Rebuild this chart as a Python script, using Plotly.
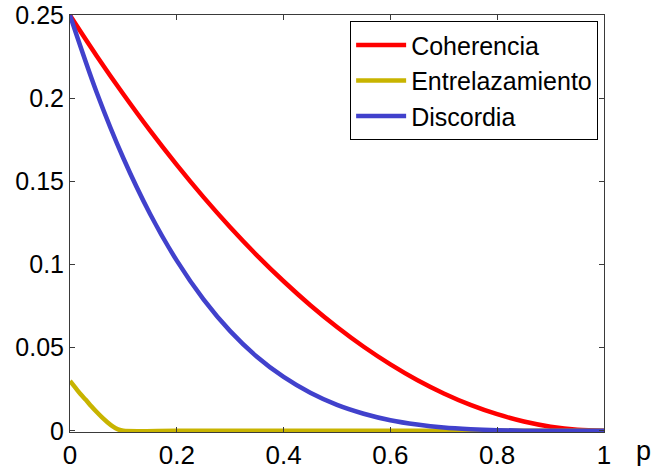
import plotly.graph_objects as go

# Parameter p
p = [0.0, 0.05, 0.1, 0.15, 0.2, 0.25, 0.3, 0.35, 0.4, 0.45, 0.5,
     0.55, 0.6, 0.65, 0.7, 0.75, 0.8, 0.85, 0.9, 0.95, 1.0]

coherencia = [0.25, 0.2256, 0.2025, 0.1806, 0.16, 0.1406, 0.1225, 0.1056, 0.09, 0.0756, 0.0625,
              0.0506, 0.04, 0.0306, 0.0225, 0.0156, 0.01, 0.0056, 0.0025, 0.0006, 0.0]

discordia = [0.25, 0.2036, 0.164, 0.1305, 0.1024, 0.0791, 0.06, 0.0446, 0.0324, 0.0229, 0.0156,
             0.0103, 0.0064, 0.0038, 0.002, 0.001, 0.0004, 0.0001, 0.0, 0.0, 0.0]

p_ent = [0.0, 0.01, 0.02, 0.03, 0.04, 0.05, 0.06, 0.07, 0.08, 0.09, 0.1,
         0.2, 0.4, 0.6, 0.8, 1.0]
entrelazamiento = [0.030, 0.026, 0.022, 0.0185, 0.0148, 0.0113, 0.0081, 0.0052, 0.0027, 0.0009, 0.0,
                   0.0, 0.0, 0.0, 0.0, 0.0]

x_ticks = [0, 0.2, 0.4, 0.6, 0.8, 1.0]
x_labels = ["0", "0.2", "0.4", "0.6", "0.8", "1"]
y_ticks = [0, 0.05, 0.1, 0.15, 0.2, 0.25]
y_labels = ["0", "0.05", "0.1", "0.15", "0.2", "0.25"]

FONT = "Liberation Sans, Arial, sans-serif"
AXIS_COLOR = "#3a3a3a"

fig = go.Figure()
fig.add_trace(go.Scatter(x=p, y=coherencia, mode="lines", name="Coherencia",
                         line=dict(color="#ff0000", width=4.5, shape="spline")))
fig.add_trace(go.Scatter(x=p_ent, y=entrelazamiento, mode="lines", name="Entrelazamiento",
                         line=dict(color="#c8b400", width=4.5, shape="spline", smoothing=0.8)))
fig.add_trace(go.Scatter(x=p, y=discordia, mode="lines", name="Discordia",
                         line=dict(color="#4141cc", width=4.5, shape="spline")))

axis_common = dict(
    showgrid=False, zeroline=False, showline=True, linecolor=AXIS_COLOR, linewidth=1,
    mirror="ticks", ticks="inside", ticklen=5, tickcolor=AXIS_COLOR, tickwidth=1,
    automargin=False, ticklabeloverflow="allow",
)

fig.update_layout(
    width=654, height=471,
    margin=dict(l=70, r=50, t=15, b=39),
    paper_bgcolor="white", plot_bgcolor="white",
    xaxis=dict(range=[0, 1], tickvals=x_ticks, ticktext=x_labels,
               tickfont=dict(family=FONT, size=26, color="#000000"), **axis_common),
    yaxis=dict(range=[-0.0007, 0.2502], tickvals=y_ticks, ticktext=y_labels,
               tickfont=dict(family=FONT, size=25, color="#000000"), **axis_common),
    legend=dict(
        x=0.989, y=0.985, xanchor="right", yanchor="top",
        bgcolor="white", bordercolor="#000000", borderwidth=1,
        font=dict(family=FONT, size=25, color="#000000"),
        tracegroupgap=0, itemwidth=50,
    ),
    showlegend=True,
    annotations=[dict(
        text="p", xref="paper", yref="paper", x=1.0, y=0, xanchor="left", yanchor="top",
        xshift=30, yshift=-2, showarrow=False,
        font=dict(family=FONT, size=27, color="#000000"),
    )],
)

fig.write_html("out.html")
